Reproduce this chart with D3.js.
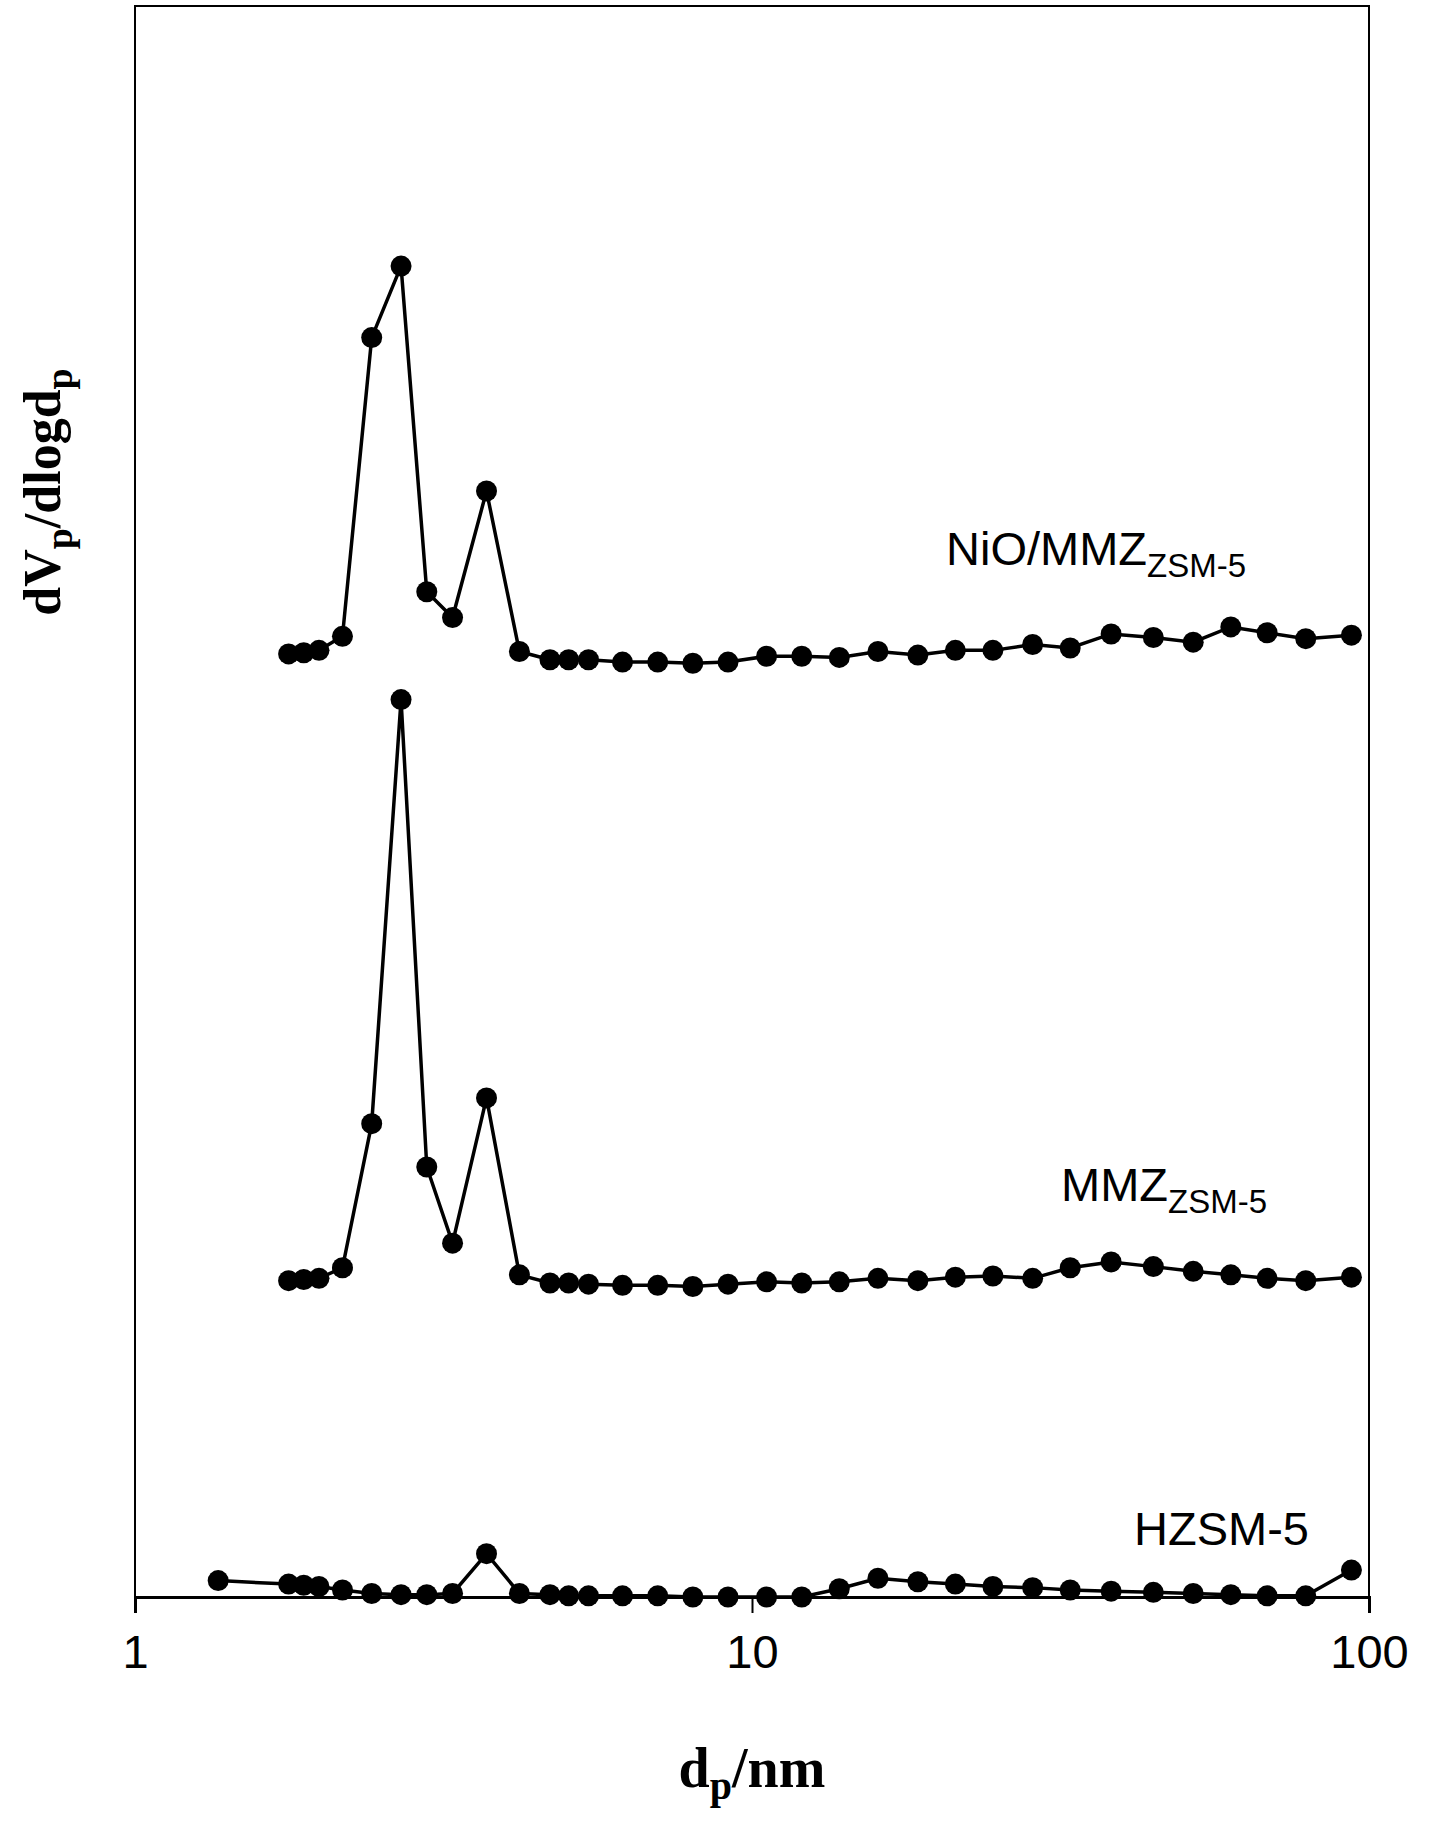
<!DOCTYPE html>
<html>
<head>
<meta charset="utf-8">
<script src="https://cdn.jsdelivr.net/npm/d3@7"></script>
<style>body{margin:0;background:#fff}</style>
</head>
<body>
<div id="chart"></div>
<script>
const poreSize = [1.774, 1.877, 1.987, 2.169, 2.419, 2.699, 2.971, 3.271, 3.713, 4.198, 4.705, 5.045, 5.433, 6.168, 7.034, 8.019, 9.144, 10.56, 12.04, 13.85, 16.0, 18.57, 21.36, 24.57, 28.5, 32.79, 38.2, 44.72, 51.89, 59.71, 68.37, 78.97, 93.65];
const poreSizeH = [1.364].concat(poreSize);

// values read as height above the x axis (arbitrary units)
const nioMmz = [805, 806, 808, 820, 1075, 1136, 858, 836, 944, 807, 800, 800, 800, 798, 798, 797, 798, 803, 803, 802, 807, 804, 808, 808, 813, 810, 822, 819, 815, 828, 823, 818, 821];
const mmz = [270, 271, 272, 281, 404, 766, 367, 302, 426, 275, 268, 268, 267, 266, 266, 265, 267, 269, 268, 269, 272, 270, 273, 274, 272, 281, 286, 282, 278, 275, 272, 270, 273];
const hzsm = [14, 11, 10, 9, 6, 3, 2, 2, 3, 37, 3, 2, 1, 1, 1, 1, 0, 0, 0, 0, 7, 16, 13, 11, 9, 8, 6, 5, 4, 3, 2, 1, 1, 23];

const W = 1429, H = 1827;
const m = {left: 135, right: 1369, top: 6, bottom: 1597};

const svg = d3.select("#chart").append("svg").attr("width", W).attr("height", H);

const x = d3.scaleLog().domain([1, 100]).range([m.left, m.right]);
const y = d3.scaleLinear().domain([0, 1358]).range([m.bottom, m.top]);

svg.append("rect")
	.attr("x", m.left).attr("y", m.top)
	.attr("width", m.right - m.left).attr("height", m.bottom - m.top)
	.attr("fill", "none").attr("stroke", "#000").attr("stroke-width", 2);

const xAxis = svg.append("g")
	.attr("transform", `translate(0,${m.bottom})`)
	.call(d3.axisBottom(x).tickValues([1, 10, 100]).tickFormat(d3.format("d")).tickSize(16).tickPadding(22));
xAxis.select(".domain").attr("stroke-width", 3);
xAxis.selectAll("line").attr("stroke-width", 2);
xAxis.selectAll("text").attr("font-family", "Liberation Sans, Arial").attr("font-size", 47).attr("fill", "#000");

const line = d3.line().x((d) => x(d[0])).y((d) => y(d[1]));

function series(xs, ys) {
	const pts = xs.map((v, i) => [v, ys[i]]);
	svg.append("path").datum(pts).attr("d", line)
		.attr("fill", "none").attr("stroke", "#000").attr("stroke-width", 3.5);
	svg.append("g").selectAll("circle").data(pts).enter().append("circle")
		.attr("cx", (d) => x(d[0])).attr("cy", (d) => y(d[1])).attr("r", 10.5).attr("fill", "#000");
}
series(poreSize, nioMmz);
series(poreSize, mmz);
series(poreSizeH, hzsm);

function label(px, py, main, sub) {
	const t = svg.append("text").attr("x", px).attr("y", py)
		.attr("font-family", "Liberation Sans, Arial").attr("font-size", 47);
	t.append("tspan").text(main);
	if (sub) t.append("tspan").attr("font-size", 33).attr("dy", 12).text(sub);
}
label(946, 565, "NiO/MMZ", "ZSM-5");
label(1061, 1201, "MMZ", "ZSM-5");
label(1134, 1545, "HZSM-5");

const xt = svg.append("text").attr("x", (m.left + m.right) / 2).attr("y", 1787)
	.attr("text-anchor", "middle").attr("font-family", "Liberation Serif, Times New Roman")
	.attr("font-weight", "bold").attr("font-size", 56);
xt.append("tspan").text("d");
xt.append("tspan").attr("font-size", 40).attr("dy", 12).text("p");
xt.append("tspan").attr("dy", -12).text("/nm");

const yt = svg.append("text").attr("transform", "translate(60,492) rotate(-90)")
	.attr("text-anchor", "middle").attr("font-family", "Liberation Serif, Times New Roman")
	.attr("font-weight", "bold").attr("font-size", 52);
yt.append("tspan").text("dV");
yt.append("tspan").attr("font-size", 38).attr("dy", 12).text("p");
yt.append("tspan").attr("dy", -12).text("/dlogd");
yt.append("tspan").attr("font-size", 38).attr("dy", 12).text("p");
</script>
</body>
</html>
